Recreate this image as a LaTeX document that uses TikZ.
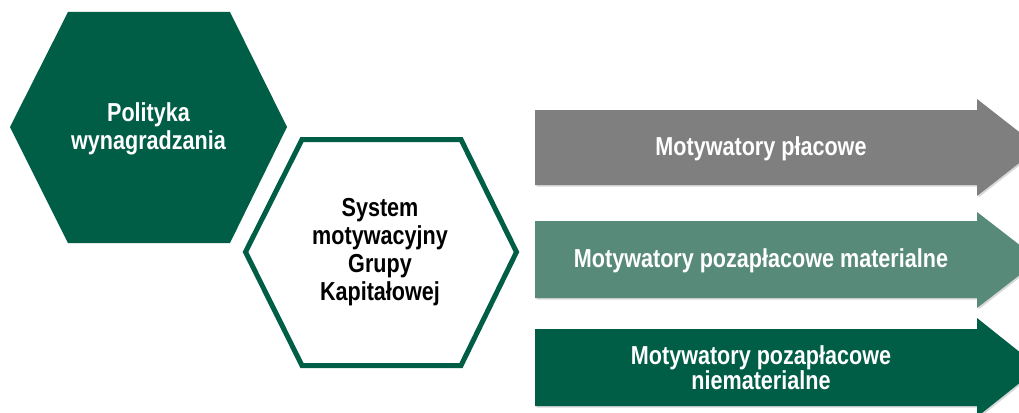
\documentclass[tikz,border=0pt]{standalone}
\usepackage{fontspec}
\setmainfont{Liberation Sans}[FakeStretch=0.83]
\usetikzlibrary{shadows}
\definecolor{dg}{HTML}{005E46}
\definecolor{mg}{HTML}{588A79}
\definecolor{gr}{HTML}{7F7F7F}
\tikzset{
  txt/.style={font=\bfseries\fontsize{26}{28}\selectfont, align=center, inner sep=0pt},
  arr/.style={drop shadow={shadow xshift=1.5pt, shadow yshift=-1.5pt, opacity=0.3}},
}
\begin{document}
\begin{tikzpicture}[x=1pt,y=-1pt]
\useasboundingbox (0,0) rectangle (1019,412);
\clip (0,0) rectangle (1019,412);
\fill[white] (0,0) rectangle (1019,412);
% hexagon 1
\fill[dg] (10,127) -- (68,12) -- (230,12) -- (287,127) -- (230,243) -- (68,243) -- cycle;
\node[txt, text=white] (pol) at (148.5,129) {Polityka\\wynagradzania};
% hexagon 2
\draw[dg, line width=5pt, line join=miter] (245.5,252) -- (302,139.5) -- (461,139.5) -- (516.5,252) -- (461,365.5) -- (302,365.5) -- cycle;
\node[txt, text=black] (sys) at (380,252) {System\\motywacyjny\\Grupy\\Kapitałowej};
% arrows
\path[fill=gr, arr] (535,110) -- (977,110) -- (977,99) -- (1039,147.5) -- (977,196) -- (977,185) -- (535,185) -- cycle;
\node[txt, text=white] (a1) at (761,149) {Motywatory płacowe};
\path[fill=mg, arr] (535,221) -- (977,221) -- (977,212) -- (1039,260) -- (977,308) -- (977,298) -- (535,298) -- cycle;
\node[txt, text=white] (a2) at (761,261) {Motywatory pozapłacowe materialne};
\path[fill=dg, arr] (535,329) -- (977,329) -- (977,318) -- (1039,367.5) -- (977,417) -- (977,406) -- (535,406) -- cycle;
\node[txt, text=white, font=\bfseries\fontsize{26}{22}\selectfont] (a3) at (761,368) {Motywatory pozapłacowe\\niematerialne};
\end{tikzpicture}
\end{document}
